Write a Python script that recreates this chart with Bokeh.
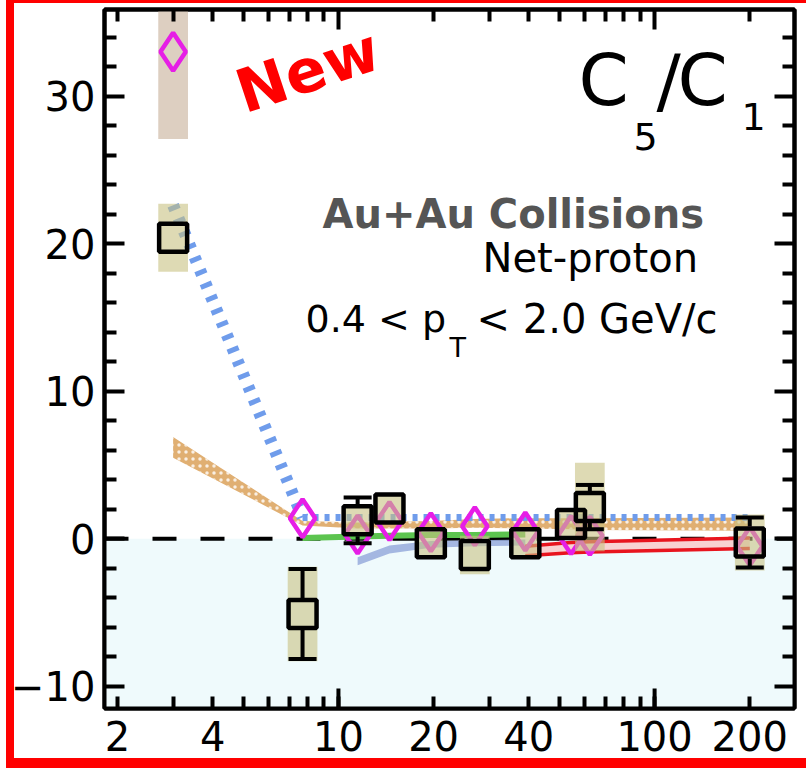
import math
from bokeh.plotting import figure
from bokeh.models import (Range1d, FixedTicker, LinearAxis, LogAxis, Label, Span,
                          BoxAnnotation, ColumnDataSource)
from bokeh.embed import file_html
from bokeh.resources import INLINE

# ---- data -------------------------------------------------------------
# collision energies sqrt(s_NN) in GeV
energy = [3.0, 7.7, 11.5, 14.5, 19.6, 27.0, 39.0, 54.4, 62.4, 200.0]

# net-proton C5/C1 (squares): value, statistical and systematic errors
sq_val = [20.4, -5.1, 1.25, 2.05, -0.3, -1.1, -0.3, 1.0, 2.15, -0.25]
sq_stat = [0.6, 3.05, 1.55, 0.6, 0.5, 0.6, 0.5, 0.6, 1.5, 1.7]
sq_sys = [2.3, 3.2, 1.0, 1.0, 1.0, 1.3, 1.0, 1.0, 3.0, 1.9]

# net-proton C5/C1 (diamonds), systematic band only at 3 GeV
dm_val = [33.0, 1.4, 0.3, 1.2, 0.45, 0.85, 0.5, 0.25, 0.2, -0.5]
dm_sys_energy = [3.0]
dm_sys = [5.9]

# model curves
blue_y = [22.6, 1.45, 1.45, 1.45, 1.45, 1.45, 1.45, 1.45, 1.45, 1.45]
tan_lo = [5.5, 0.9, 0.7, 0.7, 0.7, 0.75, 0.7, 0.65, 0.6, 0.55]
tan_hi = [6.9, 1.2, 1.1, 1.15, 1.2, 1.35, 1.4, 1.4, 1.4, 1.45]
green_energy = [7.7, 11.5, 14.5, 19.6, 27.0, 39.0]
green_y = [0.05, 0.15, 0.2, 0.25, 0.25, 0.3]
steel_energy = [11.5, 14.5, 19.6, 27.0, 39.0]
steel_lo = [-1.8, -1.0, -0.6, -0.5, -0.45]
steel_hi = [-1.25, -0.45, -0.15, -0.1, -0.05]
red_energy = [39.0, 54.4, 62.4, 200.0]
red_lo = [-1.15, -0.95, -0.9, -0.65]
red_hi = [-0.5, -0.25, -0.2, 0.05]

# axis ticks
x_tick_vals = [2, 4, 10, 20, 40, 100, 200]
x_tick_text = ["2", "4", "10", "20", "40", "100", "200"]
x_decade_vals = [10, 100]
y_tick_vals = [-10, 0, 10, 20, 30]
y_tick_text = ["\u221210", "0", "10", "20", "30"]

# ---- layout -----------------------------------------------------------
W, H = 806, 771
BL, BR, BT, BB = 104, 12, 9, 63
X0, X1 = 1.82, 277.0
Y0, Y1 = -11.5, 35.87
FONT = "DejaVu Sans"

KHAKI = "#C8C182"      # drawn at alpha 0.6
BROWN = "#DDCFC1"
MAGENTA = "#E61EE6"
TAN = "#E0AF72"
BLUE = "#6F9CEB"
GREEN = "#5CC44F"
STEEL = "#97AADC"
RED = "#E8141E"
PINK = "#F8D2D2"

p = figure(width=W, height=H, x_axis_type="log",
           x_range=Range1d(X0, X1), y_range=Range1d(Y0, Y1),
           output_backend="svg", toolbar_location=None,
           min_border_left=BL, min_border_right=BR,
           min_border_top=BT, min_border_bottom=BB)
p.xgrid.visible = False
p.ygrid.visible = False
p.outline_line_color = "black"
p.outline_line_width = 4
p.background_fill_color = "white"
# transparent border area so the red page frame painted behind it shows
p.border_fill_color = None
p.styles = {
    "background-color": "white",
    "background-image": "linear-gradient(#ff0000,#ff0000), linear-gradient(#ff0000,#ff0000), "
                        "linear-gradient(#ff0000,#ff0000)",
    "background-size": "8px 768px, 800px 3px, 800px 10px",
    "background-position": "6px 0px, 6px 0px, 6px 758px",
    "background-repeat": "no-repeat",
}

all_x = [m * 10 ** d for d in range(0, 3) for m in range(1, 10)]
all_x = [v for v in all_x if X0 < v < X1]
x_minor_bottom = [v for v in all_x if v not in x_tick_vals]
x_minor_top = [v for v in all_x if v not in x_decade_vals]
y_minor = [v for v in range(-10, 36, 2) if v not in y_tick_vals]


def style_axis(ax, major_len, labels):
    ax.axis_line_width = 4
    ax.axis_line_color = "black"
    ax.major_tick_in = major_len
    ax.major_tick_out = 0
    ax.minor_tick_in = 12
    ax.minor_tick_out = 0
    ax.major_tick_line_width = 4
    ax.minor_tick_line_width = 4
    ax.major_tick_line_color = "black"
    ax.minor_tick_line_color = "black"
    if labels:
        ax.major_label_text_font = FONT
        ax.major_label_text_font_size = "40px"
        ax.major_label_text_color = "black"
    else:
        ax.major_label_text_font_size = "1px"
        ax.major_label_text_alpha = 0
        ax.major_label_standoff = 0


xb = p.xaxis[0]
xb.ticker = FixedTicker(ticks=x_tick_vals, minor_ticks=x_minor_bottom)
xb.major_label_overrides = dict(zip(x_tick_vals, x_tick_text))
style_axis(xb, 12, True)
xb.major_label_standoff = 12

yl = p.yaxis[0]
yl.ticker = FixedTicker(ticks=y_tick_vals, minor_ticks=y_minor)
yl.major_label_overrides = dict(zip(y_tick_vals, y_tick_text))
style_axis(yl, 20, True)
yl.major_label_standoff = 9

xt = LogAxis(ticker=FixedTicker(ticks=x_decade_vals, minor_ticks=x_minor_top))
style_axis(xt, 20, False)
p.add_layout(xt, "above")

yr = LinearAxis(ticker=FixedTicker(ticks=y_tick_vals, minor_ticks=y_minor))
style_axis(yr, 20, False)
p.add_layout(yr, "right")

# shaded negative region and zero line
p.add_layout(BoxAnnotation(top=0, fill_color="#EFFAFC", fill_alpha=1,
                           line_color=None, level="underlay"))
p.add_layout(Span(location=0, dimension="width", line_color="black",
                  line_width=4, line_dash="24 24", level="underlay"))

# band half width in decades of energy
band_f = 10 ** 0.047

# systematic band of the 3 GeV diamond
p.quad(left=[e / band_f for e in dm_sys_energy], right=[e * band_f for e in dm_sys_energy],
       bottom=[dm_val[energy.index(e)] - s for e, s in zip(dm_sys_energy, dm_sys)],
       top=[dm_val[energy.index(e)] + s for e, s in zip(dm_sys_energy, dm_sys)],
       fill_color=BROWN, line_color=None)

# model bands and lines
p.varea(x=energy, y1=tan_lo, y2=tan_hi, fill_color=TAN, hatch_pattern="dot",
        hatch_color="white", hatch_scale=7, hatch_weight=2, hatch_alpha=0.8)
p.line(green_energy, green_y, line_color=GREEN, line_width=6)
p.varea(x=steel_energy, y1=steel_lo, y2=steel_hi, fill_color=STEEL, fill_alpha=0.85)
p.varea(x=red_energy, y1=red_lo, y2=red_hi, fill_color=PINK)
p.line(red_energy, red_lo, line_color=RED, line_width=3.5)
p.line(red_energy, red_hi, line_color=RED, line_width=3.5)
p.line(energy[:2], blue_y[:2], line_color=BLUE, line_width=12, line_dash="5 9")
p.line(energy[1:], blue_y[1:], line_color=BLUE, line_width=7, line_dash="5 6")

# diamonds
p.scatter(energy, dm_val, marker="diamond", size=38, line_color=MAGENTA,
          line_width=4.5, fill_alpha=0)

# systematic bands of the squares
sq_src = ColumnDataSource(dict(
    left=[e / band_f for e in energy], right=[e * band_f for e in energy],
    bottom=[v - s for v, s in zip(sq_val, sq_sys)],
    top=[v + s for v, s in zip(sq_val, sq_sys)]))
p.quad(left="left", right="right", bottom="bottom", top="top", source=sq_src,
       fill_color=KHAKI, fill_alpha=0.6, line_color=None)

# statistical error bars, drawn only outside the square marker
px_per_unit = (H - BT - BB) / (Y1 - Y0)
half = 16 / px_per_unit
bar_e = [e for e, s in zip(energy, sq_stat) if s > half]
bar_v = [v for v, s in zip(sq_val, sq_stat) if s > half]
bar_s = [s for s in sq_stat if s > half]
p.segment(x0=bar_e, y0=[v + half for v in bar_v], x1=bar_e,
          y1=[v + s for v, s in zip(bar_v, bar_s)], line_color="black", line_width=4)
p.segment(x0=bar_e, y0=[v - half for v in bar_v], x1=bar_e,
          y1=[v - s for v, s in zip(bar_v, bar_s)], line_color="black", line_width=4)
p.scatter(bar_e + bar_e, [v + s for v, s in zip(bar_v, bar_s)] + [v - s for v, s in zip(bar_v, bar_s)],
          marker="dash", size=28, line_color="black", line_width=4)

# squares
p.scatter(energy, sq_val, marker="square", size=28, line_color="black",
          line_width=4.5, fill_alpha=0)

# long decade ticks on the bottom axis (half of each dash is clipped by the frame)
p.scatter(x_decade_vals, [Y0] * len(x_decade_vals), marker="dash", angle=math.pi / 2,
          size=40, line_color="black", line_width=4)


# ---- texts (positions given in canvas pixels, y of the baseline) ------------
def add_text(px, py, text, size, color="black", style="normal", angle=0.0,
             align="left", baseline="alphabetic", shift=0.37):
    # the renderer sets alphabetic text a little low; lift it by a share of its size
    lift = shift * size if baseline == "alphabetic" else 0
    p.add_layout(Label(x=px - BL, y=(H - BB) - py + lift, x_units="screen", y_units="screen",
                       text=text, text_font=FONT, text_font_size=f"{size}px",
                       text_font_style=style, text_color=color, angle=angle,
                       text_align=align, text_baseline=baseline))


add_text(578, 106, "C", 72)
add_text(633, 150, "5", 38)
add_text(656, 106, "/", 72)
add_text(677, 106, "C", 72)
add_text(741, 130, "1", 38)
add_text(322, 228, "Au+Au Collisions", 40, color="#555555", style="bold")
add_text(482, 272, "Net-proton", 40)
add_text(305, 333, "0.4 < p", 38)
add_text(449, 357, "T", 27)
add_text(476, 333, "< 2.0 GeV/c", 40)
add_text(307, 70, "New", 60, color="#FF0000", style="bold", angle=0.32,
         align="center", baseline="middle")

open("out.html", "w").write(file_html(p, INLINE))
